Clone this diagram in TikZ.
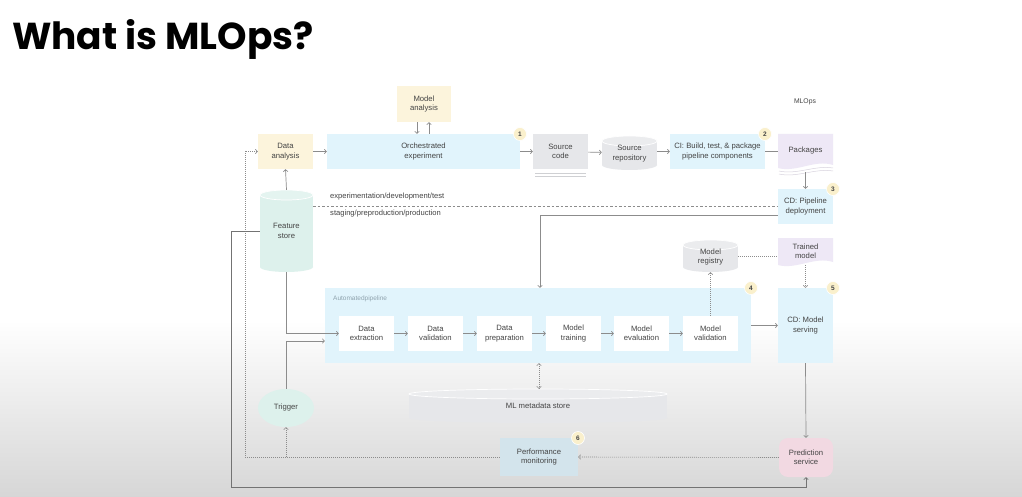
\documentclass[tikz,border=0pt]{standalone}
\usepackage{fontspec}
\setmainfont{Liberation Sans}
\newfontfamily\titlefont{Poppins}
\usetikzlibrary{arrows.meta,shapes.geometric}
\definecolor{ink}{HTML}{444444}
\definecolor{lnc}{HTML}{8C8C8C}
\definecolor{ylw}{HTML}{FCF4DC}
\definecolor{blu}{HTML}{E1F4FC}
\definecolor{gry}{HTML}{E6E7EA}
\definecolor{lav}{HTML}{EEE8F6}
\definecolor{mnt}{HTML}{DDF1EC}
\definecolor{pmb}{HTML}{D3E4EC}
\definecolor{pnk}{HTML}{F2D9E2}
\definecolor{bdg}{HTML}{FAF0CC}
\definecolor{apl}{HTML}{8FA3AE}
% #1 name, #2 cx, #3 cy, #4 half width, #5 half height, #6 ellipse ry, #7 colour, #8 text
\newcommand\cylnode[8]{%
  \fill[#7] ({#2-#4},{#3-#5+#6}) rectangle ({#2+#4},{#3+#5-#6});
  \fill[#7] (#2,{#3+#5-#6}) ellipse [x radius=#4pt, y radius=#6pt];
  \draw[white, line width=0.7pt, fill=#7!80!white] (#2,{#3-#5+#6}) ellipse [x radius=#4pt, y radius=#6pt];
  \node[box, minimum width={2*#4pt}, minimum height={2*#5pt}, text depth=-5pt] (#1) at (#2,#3) {#8};}
% #1 name, #2 x1, #3 y1, #4 x2, #5 y2, #6 colour, #7 text
\newcommand\docnode[7]{%
  \fill[#6] (#2,#3) -- (#4,#3) -- (#4,{#5-3}) .. controls ({#4-18},{#5-9}) and ({#2+18},{#5+5}) .. (#2,#5) -- cycle;
  \node[box, minimum width={(#4-#2)*1pt}, minimum height={(#5-#3)*1pt}] (#1) at ({(#2+#4)/2},{(#3+#5)/2}) {#7};}
\begin{document}
\begin{tikzpicture}[x=1pt,y=-1pt,
 box/.style={draw=none, inner sep=1pt, align=center, font=\fontsize{7.7}{9.4}\selectfont, text=ink},
 lbl/.style={inner sep=0, font=\fontsize{7.6}{9}\selectfont, text=ink},
 badge/.style={circle, fill=bdg, draw=white, line width=0.6pt, minimum size=13pt, inner sep=0, font=\bfseries\fontsize{6.5}{6.5}\selectfont, text=ink},
 arr/.style={draw=lnc, line width=0.7pt, -{Straight Barb[length=2pt,width=4.5pt]}},
 ln/.style={draw=lnc, line width=0.7pt},
 dotl/.style={draw=lnc, line width=0.6pt, dash pattern=on 1pt off 1pt},
 dotarr/.style={dotl, -{Straight Barb[length=2pt,width=4.5pt]}},
 sep/.style={draw=lnc, line width=0.6pt, dash pattern=on 2.5pt off 2pt},
]
\useasboundingbox (0,0) rectangle (1022,497);
\fill[white] (0,0) rectangle (1022,497);
\shade[top color=white, bottom color=black!16] (0,320) rectangle (1022,497);

\node[anchor=base west, inner sep=0, font=\titlefont\bfseries\fontsize{37.5}{40}\selectfont] (title) at (12,50) {What is MLOps?};
\node[lbl, font=\fontsize{6.8}{8}\selectfont] (mlops) at (805,102) {MLOps};

% top row
\node[box, fill=ylw, minimum width=54pt, minimum height=36pt] (ma) at (424,104) {Model\\analysis};
\node[box, fill=ylw, minimum width=55pt, minimum height=35pt] (dan) at (285.5,151.5) {Data\\analysis};
\node[box, fill=blu, minimum width=193pt, minimum height=35pt] (oe) at (423.5,151.5) {Orchestrated\\experiment};
\draw[gry!90!black, line width=0.5pt] (535,173) -- (586,173) (535,176) -- (586,176);
\node[box, fill=gry, minimum width=55pt, minimum height=35pt] (sc) at (560.5,151.5) {Source\\code};
\cylnode{sr}{629.5}{153}{27.5}{17}{5}{gry}{Source\\repository}
\node[box, fill=blu, minimum width=95pt, minimum height=35pt] (ci) at (717.5,151.5) {CI: Build, test, \& package\\pipeline components};
\draw[lav!80!gray, line width=0.5pt] (779,171) .. controls (797,175) and (815,165) .. (833,168);
\draw[lav!80!gray, line width=0.5pt] (779,174) .. controls (797,178) and (815,168) .. (833,171);
\docnode{pk}{778}{134}{833}{168}{lav}{Packages}
\node[box, fill=blu, minimum width=55pt, minimum height=35pt] (cdp) at (805.5,206.5) {CD: Pipeline\\deployment};

% separator
\draw[sep] (313,206) -- (cdp.west |- 0,206);
\node[lbl, anchor=west] (exp) at (330,197) {experimentation/development/test};
\node[lbl, anchor=west] (stg) at (330,214) {staging/preproduction/production};

% middle
\cylnode{fs}{286.5}{231}{26.5}{41}{5}{mnt}{Feature\\store}
\cylnode{mr}{710.5}{256}{27.5}{16}{5}{gry}{Model\\registry}
\docnode{tm}{778}{238}{833}{265}{lav}{Trained\\model}

\node[fill=blu, minimum width=426pt, minimum height=75pt, inner sep=0] (ap) at (538,325.5) {};
\node[anchor=west, inner sep=0, font=\fontsize{6.5}{7}\selectfont, text=apl] (apl) at (333,299) {Automatedpipeline};
\node[box, fill=white, minimum width=55pt, minimum height=35pt] (de) at (366.5,333.5) {Data\\extraction};
\node[box, fill=white, minimum width=55pt, minimum height=35pt] (dv) at (435.5,333.5) {Data\\validation};
\node[box, fill=white, minimum width=55pt, minimum height=35pt] (dp) at (504.5,333.5) {Data\\preparation};
\node[box, fill=white, minimum width=55pt, minimum height=35pt] (mt) at (573.5,333.5) {Model\\training};
\node[box, fill=white, minimum width=55pt, minimum height=35pt] (me) at (641.5,333.5) {Model\\evaluation};
\node[box, fill=white, minimum width=55pt, minimum height=35pt] (mv) at (710.5,333.5) {Model\\validation};
\node[box, fill=blu, minimum width=55pt, minimum height=75pt] (cdm) at (805.5,325.5) {CD: Model\\serving};

% bottom
\cylnode{mds}{538}{406}{129}{17}{5}{gry}{ML metadata store}
\node[box, ellipse, fill=mnt, inner sep=0, minimum width=56pt, minimum height=38pt] (tr) at (286,408) {Trigger};
\node[box, fill=pmb, minimum width=78pt, minimum height=38pt] (pm) at (539,457) {Performance\\monitoring};
\node[box, fill=pnk, rounded corners=9pt, minimum width=54pt, minimum height=39pt] (ps) at (806,457.5) {Prediction\\service};

% badges
\node[badge] (b1) at (520,134) {1};
\node[badge] (b2) at (765,134) {2};
\node[badge] (b3) at (833,189) {3};
\node[badge] (b4) at (751,288) {4};
\node[badge] (b5) at (833,288) {5};
\node[badge] (b6) at (578,438) {6};

% connectors
\draw[arr] ([xshift=-7pt]ma.south) -- ([xshift=-7pt]ma.south |- oe.north);
\draw[arr] ([xshift=5pt]ma.south |- oe.north) -- ([xshift=5pt]ma.south);
\draw[arr] (dan) -- (oe);
\draw[arr] (oe) -- (sc);
\draw[arr] (sc) -- (sr);
\draw[arr] (sr.east |- ci.west) -- (ci);
\draw[ln] (ci) -- (pk.west |- ci.east);
\draw[arr] ([yshift=-4pt]pk.south) -- (cdp.north);
\draw[arr] (fs.north) -- (dan.south);
\draw[arr] ([yshift=-8.5pt]cdp.west) -| ([xshift=2pt]ap.north);
\draw[dotl] (mr.east) -- (mr.east -| tm.west);
\draw[dotarr] (tm.south) -- (cdm.north);
\draw[dotarr] (mv.north) -- (mr.south);
\draw[arr] (fs.south) |- (de.west);
\draw[arr] (tr.north) |- ([yshift=-15.5pt]ap.west);
\draw[arr] (de) -- (dv);
\draw[arr] (dv) -- (dp);
\draw[arr] (dp) -- (mt);
\draw[arr] (mt) -- (me);
\draw[arr] (me) -- (mv);
\draw[arr] (ap.east) -- (cdm.west);
\draw[dotl, {Straight Barb[length=2pt,width=4.5pt]}-{Straight Barb[length=2pt,width=4.5pt]}] ([xshift=1pt]ap.south) -- ([xshift=1pt]mds.north);
\draw[arr] (cdm.south) -- (ps.north);
\draw[dotarr] (ps.west) -- (pm.east);
\draw[dotarr] (pm.west) -| ([xshift=-13pt]dan.west) -- (dan.west);
\draw[dotarr] (pm.west -| tr.south) -- (tr.south);
\draw[arr, draw=black!55] (fs.west) -- ++(-28,0) |- ([yshift=-10pt]ps.south) -- (ps.south);
\end{tikzpicture}
\end{document}
